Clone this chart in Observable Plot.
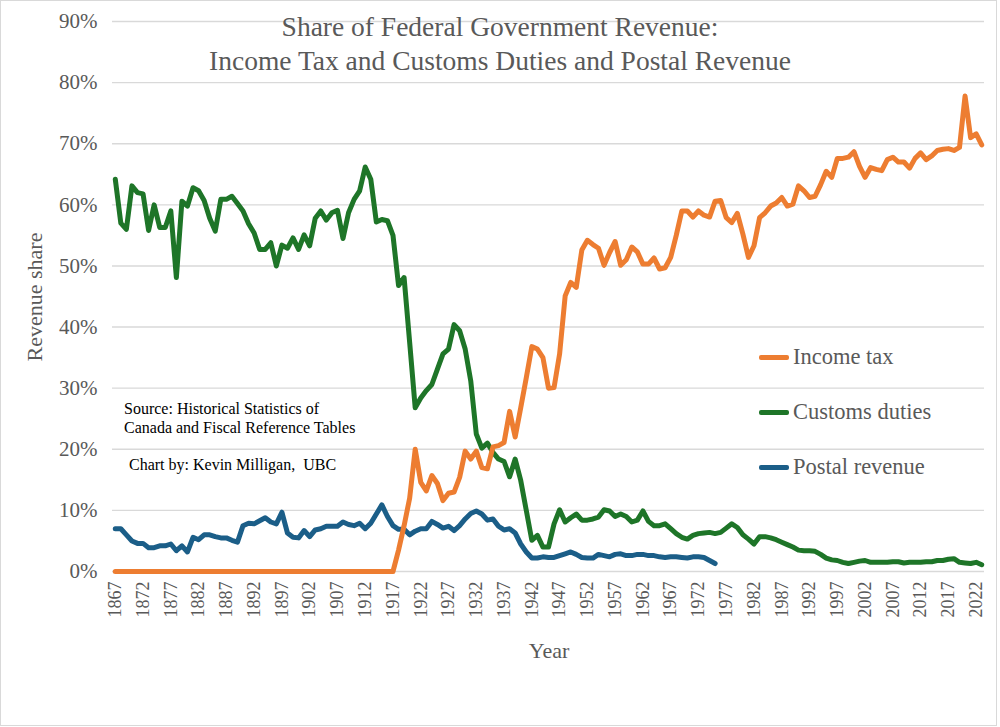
<!DOCTYPE html>
<html>
<head>
<meta charset="utf-8">
<script src="https://cdn.jsdelivr.net/npm/d3@7"></script>
<script src="https://cdn.jsdelivr.net/npm/@observablehq/plot@0.6"></script>
<style>
  html, body { margin: 0; padding: 0; background: #fff; }
  #wrap { position: relative; width: 1000px; height: 727px; font-family: "Liberation Serif", "Times New Roman", serif; overflow: hidden; }
  #frame { position: absolute; left: 0; top: 0; width: 995px; height: 724px; border: 1px solid #d9d9d9; pointer-events: none; }
  .ov { position: absolute; white-space: pre; }
  #title { left: 0; top: 10px; width: 1000px; text-align: center; font-size: 27.5px; line-height: 34px; color: #595959; }
  #ylab { left: 35px; top: 297px; transform: translate(-50%, -50%) rotate(-90deg); font-size: 22px; color: #595959; }
  #xlab { left: 549px; top: 651px; transform: translate(-50%, -50%); font-size: 22px; color: #595959; }
  .note { font-size: 16px; color: #000; line-height: 19px; }
  .sw { position: absolute; width: 30px; height: 5px; border-radius: 2px; }
  .lt { font-size: 22.5px; color: #595959; transform: translateY(-50%); }
</style>
</head>
<body>
<div id="wrap">
  <div id="chart"></div>
  <div id="title" class="ov">Share of Federal Government Revenue:
Income Tax and Customs Duties and Postal Revenue</div>
  <div id="ylab" class="ov">Revenue share</div>
  <div id="xlab" class="ov">Year</div>
  <div class="ov note" style="left:124px; top:399px;">Source: Historical Statistics of
Canada and Fiscal Reference Tables</div>
  <div class="ov note" style="left:129px; top:455px;">Chart by: Kevin Milligan,  UBC</div>
  <div id="legend"></div>
  <div id="frame"></div>
</div>
<script>
const firstYear = 1867;
const seriesNames = ["Income tax", "Customs duties", "Postal revenue"];
const seriesColors = ["#ED7D31", "#1E7528", "#1B5E88"];

// Income tax share (%), 1867–2023
const incomeTax = [
  0,0,0,0,0,0,0,0,0,0,      // 1867-1876
  0,0,0,0,0,0,0,0,0,0,      // 1877-1886
  0,0,0,0,0,0,0,0,0,0,      // 1887-1896
  0,0,0,0,0,0,0,0,0,0,      // 1897-1906
  0,0,0,0,0,0,0,0,0,0,      // 1907-1916
  0,                        // 1917
  3.5, 7.5, 12, 20, 14.6, 13.2, 15.7, 14.4, 11.6, 12.8, 13, 15.4,   // 1918-1929
  19.7, 18.4, 19.7, 17, 16.8, 20.4, 20.6, 21.1, 26.2, 22,           // 1930-1939
  26.8, 31.7, 36.8, 36.4, 35, 30, 30.1, 35.6, 45.1, 47.3,           // 1940-1949
  46.5, 52.6, 54.2, 53.5, 52.9, 50.1, 52.2, 54, 50.1, 51,           // 1950-1959
  53.1, 52.3, 50.3, 50.3, 51.3, 49.5, 49.7, 51.4, 55, 59,           // 1960-1969
  59, 58, 59, 58.3, 58, 60.6, 60.7, 57.9, 57.1, 58.6,               // 1970-1979
  55.2, 51.4, 53.3, 57.9, 58.7, 59.8, 60.3, 61.2, 59.8, 60.1,       // 1980-1989
  63.1, 62.3, 61.2, 61.4, 63.3, 65.5, 64.5, 67.6, 67.6, 67.8,       // 1990-1999
  68.7, 66.3, 64.5, 66.1, 65.8, 65.6, 67.4, 67.8, 67, 67,           // 2000-2009
  66, 67.6, 68.5, 67.4, 68, 68.9, 69.1, 69.2, 68.9, 69.4,           // 2010-2019
  77.8, 71, 71.6, 69.8                                              // 2020-2023
];

// Customs duties share (%), 1867–2023
const customs = [
  64.2, 57, 56, 63.1, 62, 61.8, 55.8, 60, 56.3, 56.3,               // 1867-1876
  59, 48.1, 60.6, 59.8, 62.8, 62.3, 60.7, 57.8, 55.7, 60.9,         // 1877-1886
  60.9, 61.4, 60.2, 59, 56.9, 55.4, 52.7, 52.7, 53.8, 50,           // 1887-1896
  53.4, 52.9, 54.6, 52.7, 55.1, 53.3, 57.8, 59, 57.5, 58.7,         // 1897-1906
  59.1, 54.5, 58.7, 60.9, 62.3, 66.2, 64.2, 57.2, 57.6, 57.4,       // 1907-1916
  55, 46.8, 48.1, 37.5, 26.8, 28.4, 29.6, 30.6, 33.1, 35.6,         // 1917-1926
  36.4, 40.4, 39.4, 36.4, 31.2, 22.5, 20.2, 21, 19.5, 18.4,         // 1927-1936
  18, 15.5, 18.4, 14.9, 10, 5.1, 5.9, 4, 4, 7.8,                    // 1937-1946
  10.1, 8.1, 8.8, 9.4, 8.4, 8.4, 8.6, 8.9, 10.1, 9.9,               // 1947-1956
  9, 9.4, 9, 8.1, 8.4, 9.9, 8.2, 7.5, 7.5, 7.8,                     // 1957-1966
  7, 6.2, 5.6, 5.3, 5.9, 6.2, 6.3, 6.4, 6.2, 6.4,                   // 1967-1976
  7.1, 7.8, 7.2, 6, 5.3, 4.5, 5.7, 5.7, 5.5, 5.2,                   // 1977-1986
  4.8, 4.4, 4, 3.5, 3.4, 3.4, 3.3, 2.8, 2.2, 1.9,                   // 1987-1996
  1.8, 1.5, 1.3, 1.5, 1.7, 1.8, 1.5, 1.5, 1.5, 1.5,                 // 1997-2006
  1.6, 1.6, 1.4, 1.5, 1.5, 1.5, 1.6, 1.6, 1.8, 1.8,                 // 2007-2016
  2, 2.1, 1.5, 1.4, 1.3, 1.5, 1.1                                   // 2017-2023
];

// Postal revenue share (%), 1867–1975
const postal = [
  7, 7, 6, 5, 4.6, 4.6, 3.9, 3.9, 4.2, 4.2,                         // 1867-1876
  4.5, 3.4, 4.2, 3.2, 5.6, 5.2, 6, 6, 5.7, 5.5,                     // 1877-1886
  5.5, 5.1, 4.8, 7.5, 7.9, 7.8, 8.3, 8.8, 8.1, 7.8,                 // 1887-1896
  9.7, 6.3, 5.6, 5.5, 6.7, 5.7, 6.8, 7, 7.4, 7.4,                   // 1897-1906
  7.4, 8.1, 7.7, 7.5, 7.9, 7, 7.9, 9.4, 10.9, 9,                    // 1907-1916
  7.5, 6.9, 6.9, 6, 6.6, 7, 7, 8.2, 7.7, 7.1,                       // 1917-1926
  7.4, 6.7, 7.5, 8.6, 9.5, 9.9, 9.4, 8.4, 8.6, 7.4,                 // 1927-1936
  6.8, 7, 6.3, 4.5, 3.2, 2.2, 2.2, 2.4, 2.3, 2.3,                   // 1937-1946
  2.6, 2.9, 3.2, 2.8, 2.3, 2.2, 2.2, 2.8, 2.6, 2.4,                 // 1947-1956
  2.8, 2.9, 2.6, 2.6, 2.8, 2.8, 2.6, 2.6, 2.4, 2.3,                 // 1957-1966
  2.4, 2.4, 2.3, 2.2, 2.4, 2.4, 2.3, 1.8, 1.3                       // 1967-1975
];

const xTickYears = [1867,1872,1877,1882,1887,1892,1897,1902,1907,1912,1917,1922,1927,1932,1937,1942,1947,1952,1957,1962,1967,1972,1977,1982,1987,1992,1997,2002,2007,2012,2017,2022];
const yTicks = [0,10,20,30,40,50,60,70,80,90];

const seriesValues = [incomeTax, customs, postal];
const rows = (vals, name) => vals.map((v, i) => ({year: firstYear + i, value: v, series: name}));

const drawOrder = [2, 1, 0];
const lineMarks = drawOrder.map(k => Plot.line(rows(seriesValues[k], seriesNames[k]), {
  x: "year", y: "value", stroke: seriesColors[k], strokeWidth: 5,
  strokeLinejoin: "round", strokeLinecap: "round"
}));

const chart = Plot.plot({
  width: 1000, height: 727,
  marginLeft: 112, marginRight: 16, marginTop: 21, marginBottom: 156,
  style: {fontFamily: "'Liberation Serif', 'Times New Roman', serif", background: "transparent", color: "#595959"},
  x: {domain: [firstYear - 0.5, 2023.5]},
  y: {domain: [0, 90]},
  marks: [
    Plot.gridY(yTicks, {stroke: "#d9d9d9", strokeOpacity: 1, strokeWidth: 1.4}),
    Plot.axisY(yTicks, {tickFormat: d => d + "%", tickSize: 0, tickPadding: 15, fontSize: 21, fill: "#595959", label: null}),
    Plot.axisX(xTickYears, {tickFormat: d => String(d), tickRotate: -90, tickSize: 0, tickPadding: 10, fontSize: 18, fill: "#595959", label: null}),
    ...lineMarks
  ]
});
document.getElementById("chart").appendChild(chart);

// legend
const legend = document.getElementById("legend");
const legendY = [357, 412, 467];
seriesNames.forEach((name, k) => {
  const sw = document.createElement("div");
  sw.className = "sw";
  sw.style.left = "759px";
  sw.style.top = (legendY[k] - 2.5) + "px";
  sw.style.background = seriesColors[k];
  legend.appendChild(sw);
  const t = document.createElement("div");
  t.className = "ov lt";
  t.style.left = "793px";
  t.style.top = legendY[k] + "px";
  t.textContent = name;
  legend.appendChild(t);
});
</script>
</body>
</html>
